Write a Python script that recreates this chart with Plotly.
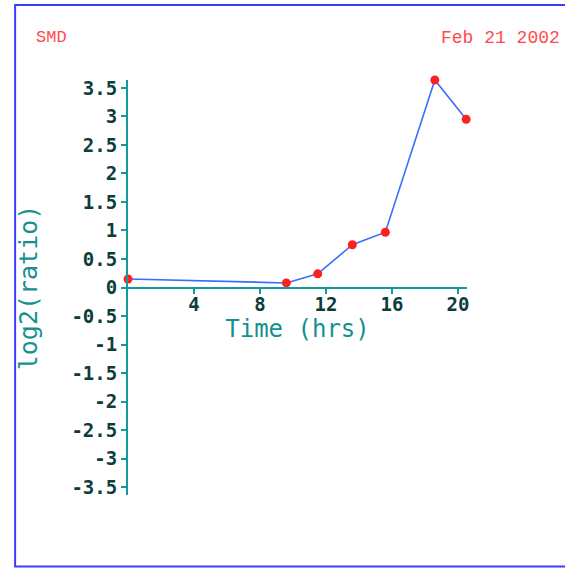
import plotly.graph_objects as go

time_hrs = [0.0, 9.6, 11.5, 13.6, 15.6, 18.6, 20.5]
log2_ratio = [0.15, 0.08, 0.24, 0.75, 0.97, 3.64, 2.95]

x_tickvals = [4, 8, 12, 16, 20]
x_ticktext = ["4", "8", "12", "16", "20"]
y_tickvals = [3.5, 3, 2.5, 2, 1.5, 1, 0.5, 0, -0.5, -1, -1.5, -2, -2.5, -3, -3.5]
y_ticktext = ["3.5", "3", "2.5", "2", "1.5", "1", "0.5", "0", "-0.5", "-1", "-1.5", "-2", "-2.5", "-3", "-3.5"]

axis_color = "#159a9a"
tick_font = dict(family="DejaVu Sans Mono", size=19, color="#0c3c3c", weight="bold")
title_font = dict(family="DejaVu Sans Mono", size=24, color="#159090")

fig = go.Figure()
fig.add_trace(go.Scatter(
    x=time_hrs, y=log2_ratio, mode="lines+markers",
    line=dict(color="#3a6cff", width=1.6),
    marker=dict(color="#ff2020", size=9),
    cliponaxis=False, showlegend=False,
))

fig.update_layout(
    width=565, height=569,
    margin=dict(l=128, r=98, t=80, b=74),
    paper_bgcolor="white", plot_bgcolor="white",
    xaxis=dict(
        range=[0, 20.55], anchor="free", position=0.5,
        showgrid=False, zeroline=False,
        showline=True, linecolor=axis_color, linewidth=2,
        ticks="outside", ticklen=5, tickwidth=1.5, tickcolor=axis_color,
        tickvals=x_tickvals, ticktext=x_ticktext, tickfont=tick_font,
        ticklabelstandoff=-5,
        title=dict(text="Time (hrs)", font=title_font, standoff=0),
    ),
    yaxis=dict(
        range=[-3.64, 3.64],
        showgrid=False, zeroline=False,
        showline=True, linecolor=axis_color, linewidth=2,
        ticks="outside", ticklen=5, tickwidth=1.5, tickcolor=axis_color,
        tickvals=y_tickvals, ticktext=y_ticktext, tickfont=tick_font,
        title=dict(text="log2(ratio)", font=dict(family="DejaVu Sans Mono", size=25, color="#159090"), standoff=27),
    ),
    shapes=[dict(
        type="rect", xref="paper", yref="paper",
        x0=-0.333, x1=1.4, y0=-0.172, y1=1.181,
        line=dict(color="#3c3cff", width=2), fillcolor="rgba(0,0,0,0)",
    )],
    annotations=[
        dict(text="SMD", xref="paper", yref="paper", x=-0.278, y=1.0, yanchor="middle",
             xanchor="left", showarrow=False, font=dict(family="Liberation Mono", size=17, color="#ff4a4a")),
        dict(text="Feb 21 2002", xref="paper", yref="paper", x=1.28, y=1.0, yanchor="middle",
             xanchor="right", showarrow=False, font=dict(family="Liberation Mono", size=18, color="#ff4a4a")),
    ],
)

plot_h = 569 - 80 - 74
for a in fig.layout.annotations:
    a.y = (569 - 74 - 38) / plot_h

fig.write_html("out.html", config={"displayModeBar": False},
               post_script="document.body.style.margin='0';")
